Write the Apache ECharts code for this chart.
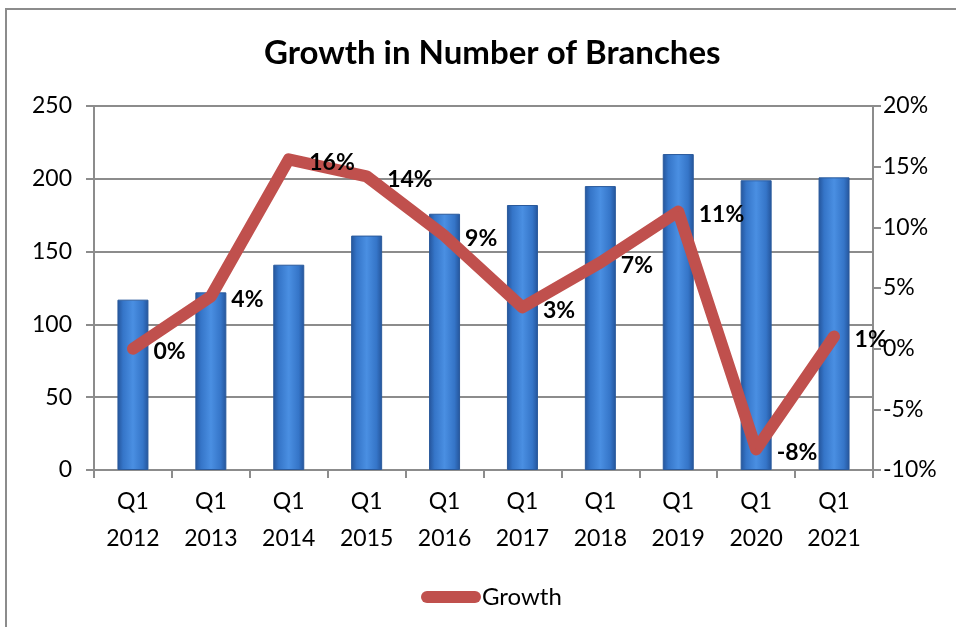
<!DOCTYPE html>
<html>
<head>
<meta charset="utf-8">
<script src="https://cdn.jsdelivr.net/npm/echarts@6/dist/echarts.min.js"></script>
<style>
  html, body { margin: 0; padding: 0; background: #fff; overflow: hidden; }
  #frame { position: absolute; left: 5px; top: 8px; width: 1000px; height: 700px; border: 2px solid #8c8c8c; box-sizing: border-box; }
  #chart { position: absolute; left: 0; top: 0; width: 956px; height: 627px; }
</style>
</head>
<body>
<div id="frame"></div>
<div id="chart"></div>
<script>
// Branch counts per year (Q1) and year-over-year growth in percent
const categories = ['Q1\n2012', 'Q1\n2013', 'Q1\n2014', 'Q1\n2015', 'Q1\n2016', 'Q1\n2017', 'Q1\n2018', 'Q1\n2019', 'Q1\n2020', 'Q1\n2021'];
const branches = [117, 122, 141, 161, 176, 182, 195, 217, 199, 201];
const growth = [0, 4.3, 15.6, 14.2, 9.3, 3.4, 7.1, 11.3, -8.3, 1.0];

const font = 'Lato, "Open Sans", sans-serif';
const chart = echarts.init(document.getElementById('chart'));

const barColor = new echarts.graphic.LinearGradient(0, 0, 1, 0, [
  { offset: 0, color: '#24549a' },
  { offset: 0.18, color: '#3575c8' },
  { offset: 0.5, color: '#4a8fe2' },
  { offset: 0.82, color: '#3575c8' },
  { offset: 1, color: '#24549a' }
]);

chart.setOption({
  animation: false,
  title: {
    text: 'Growth in Number of Branches',
    left: 259,
    top: 32,
    textStyle: { fontFamily: font, fontSize: 33, fontWeight: 'bold', color: '#000' }
  },
  legend: {
    data: ['Growth'],
    left: 416,
    top: 580,
    itemWidth: 60,
    itemHeight: 12,
    itemGap: 0,
    icon: 'path://M6,0 H54 A6,6 0 0 1 54,12 H6 A6,6 0 0 1 6,0 Z',
    textStyle: { fontFamily: font, fontSize: 24, color: '#000', padding: [0, 0, 0, -4] }
  },
  grid: { left: 94, right: 83, top: 106, bottom: 157 },
  xAxis: {
    type: 'category',
    data: categories,
    boundaryGap: true,
    axisLine: { lineStyle: { color: '#8c8c8c', width: 2 } },
    axisTick: { show: true, interval: 0, length: 8, lineStyle: { color: '#8c8c8c', width: 2 } },
    axisLabel: { interval: 0, fontFamily: font, fontSize: 23, color: '#000', lineHeight: 37, margin: 13 }
  },
  yAxis: [
    {
      type: 'value',
      min: 0, max: 250, interval: 50,
      axisLine: { show: true, lineStyle: { color: '#8c8c8c', width: 2 } },
      axisTick: { show: true, length: 8, lineStyle: { color: '#8c8c8c', width: 2 } },
      splitLine: { show: true, lineStyle: { color: '#8c8c8c', width: 2 } },
      axisLabel: { fontFamily: font, fontSize: 23, color: '#000', margin: 22 }
    },
    {
      type: 'value',
      min: -10, max: 20, interval: 5,
      position: 'right',
      axisLine: { show: true, lineStyle: { color: '#8c8c8c', width: 2 } },
      axisTick: { show: true, length: 8, lineStyle: { color: '#8c8c8c', width: 2 } },
      splitLine: { show: false },
      axisLabel: { fontFamily: font, fontSize: 23, color: '#000', margin: 10, formatter: '{value}%' }
    }
  ],
  series: [
    {
      name: 'Branches',
      type: 'bar',
      data: branches,
      yAxisIndex: 0,
      barWidth: 31,
      itemStyle: { color: barColor, borderColor: '#2a5a9c', borderWidth: 1 }
    },
    {
      name: 'Growth',
      type: 'line',
      data: growth,
      yAxisIndex: 1,
      showSymbol: true,
      symbol: 'circle',
      symbolSize: 1,
      itemStyle: { color: '#c0504d' },
      lineStyle: { color: '#c0504d', width: 12, cap: 'round', join: 'round' },
      label: {
        show: true,
        position: 'right',
        distance: 20,
        offset: [0, 3],
        fontFamily: font,
        fontSize: 23,
        fontWeight: 'bold',
        color: '#000',
        formatter: p => Math.round(p.value) + '%'
      },
      z: 5
    }
  ]
});
</script>
</body>
</html>
